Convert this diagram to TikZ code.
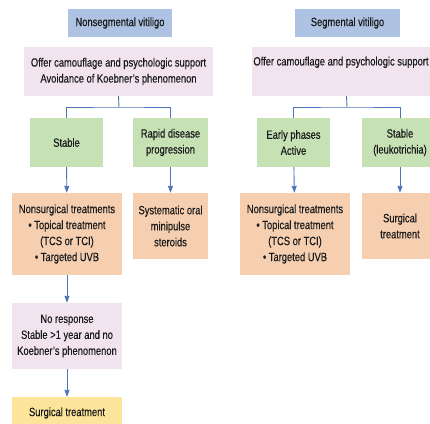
\documentclass[tikz,border=0pt]{standalone}
\usepackage{fontspec}
\setmainfont[FakeStretch=0.78, FakeBold=0.3]{Liberation Sans}
\usetikzlibrary{arrows.meta}
\pgfdeclarelayer{bg}
\pgfsetlayers{bg,main}
\definecolor{titleblue}{HTML}{AEC3E3}
\definecolor{offerpink}{HTML}{F1E4EE}
\definecolor{phasegreen}{HTML}{C6E2B5}
\definecolor{treatorange}{HTML}{F6CFB1}
\definecolor{surgyellow}{HTML}{FCE49B}
\definecolor{linkblue}{HTML}{4D74B8}
\definecolor{textgray}{HTML}{1A1A1A}
\tikzset{
    box/.style={draw=none, align=center, inner sep=0pt, text=textgray,
        font=\fontsize{12}{16}\selectfont},
    titlebox/.style={box, fill=titleblue, minimum height=28},
    offerbox/.style={box, fill=offerpink, minimum width=189, minimum height=49},
    phasebox/.style={box, fill=phasegreen, minimum height=49},
    treatbox/.style={box, fill=treatorange},
    link/.style={draw=linkblue, line width=0.9pt},
    flow/.style={link, -{Triangle[width=5pt, length=7pt]}}
}
\begin{document}
\begin{tikzpicture}[x=1pt, y=-1pt]
    \useasboundingbox (0,0) rectangle (430,423);
    \clip (0,0) rectangle (430,423);

    \node (ns) [titlebox, minimum width=104] at (120, 23) {Nonsegmental vitiligo};
    \node (sg) [titlebox, minimum width=105] at (347.5, 23) {Segmental vitiligo};

    \node (nsoffer) [offerbox] at (118.5, 71.5) {Offer camouflage and psychologic support\\Avoidance of Koebner’s phenomenon};
    \node (sgoffer) [offerbox] at (346.5, 71.5) {Offer camouflage and psychologic support\hspace*{11pt}\\\strut};

    \node (stable) [phasebox, minimum width=73] at (66.5, 142.5) {Stable};
    \node (rapid) [phasebox, minimum width=75] at (170.5, 142.5) {Rapid disease\\progression};
    \node (early) [phasebox, minimum width=73] at (293.5, 142.5) {Early phases\\Active};
    \node (leuko) [phasebox, minimum width=76] at (400, 142.5) {Stable\\(leukotrichia)};

    \node (nonsurg) [treatbox, minimum width=110, minimum height=82] at (67, 234) {Nonsurgical treatments\\• Topical treatment\\(TCS or TCI)\\• Targeted UVB};
    \node (steroids) [treatbox, minimum width=75, minimum height=66] at (170.5, 226) {Systematic oral\\minipulse\\steroids};
    \node (sgnonsurg) [treatbox, minimum width=110, minimum height=82] at (295, 234) {Nonsurgical treatments\\• Topical treatment\\(TCS or TCI)\\• Targeted UVB};
    \node (sgsurg) [treatbox, minimum width=76, minimum height=66] at (400, 226) {Surgical\\treatment};

    \node (noresp) [box, fill=offerpink, minimum width=110, minimum height=66] at (67, 336) {No response\\Stable >1 year and no\\Koebner’s phenomenon};
    \node (nssurg) [box, fill=surgyellow, minimum width=110, minimum height=32] at (67, 413) {Surgical treatment};

    \coordinate (nsfork) at (119, 107);
    \coordinate (sgfork) at (347, 107);

    \begin{pgfonlayer}{bg}
        \draw[link] (nsoffer.south) -- (nsfork);
        \draw[link] (stable.north) |- (nsfork) -| (rapid.north);
        \draw[link] (sgoffer.south) -- (sgfork);
        \draw[link] (early.north) |- (sgfork) -| (leuko.north);
        \draw (stable) edge[flow] (nonsurg);
        \draw (rapid) edge[flow] (steroids);
        \draw (early) edge[flow] (sgnonsurg);
        \draw (leuko) edge[flow] (sgsurg);
        \draw (nonsurg) edge[flow] (noresp);
        \draw (noresp) edge[flow] (nssurg);
    \end{pgfonlayer}
\end{tikzpicture}
\end{document}
